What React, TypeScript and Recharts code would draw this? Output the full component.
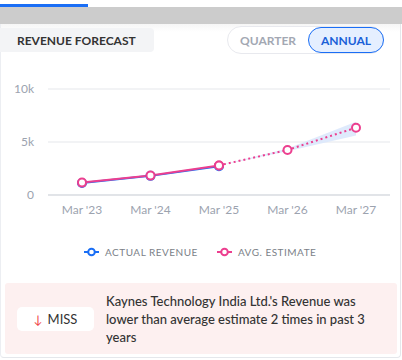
import React from "react";
import { ComposedChart, Line, Area, XAxis, YAxis, CartesianGrid } from "recharts";

const categories = ["Mar '23", "Mar '24", "Mar '25", "Mar '26", "Mar '27"];
const actualRevenue: (number | null)[] = [1126, 1805, 2722, null, null];
const estimatePast: (number | null)[] = [1170, 1830, 2790, null, null];
const estimateFuture: (number | null)[] = [null, null, 2790, 4250, 6350];
const estimateLow: (number | null)[] = [null, null, 2790, 4120, 5620];
const estimateHigh: (number | null)[] = [null, null, 2790, 4380, 6900];
const yTicks = [0, 5000, 10000];
const yTickLabels = ["0", "5k", "10k"];

const data = categories.map((c, i) => ({
  name: c,
  actual: actualRevenue[i],
  estPast: estimatePast[i],
  estFuture: estimateFuture[i],
  range:
    estimateLow[i] != null && estimateHigh[i] != null
      ? [estimateLow[i], estimateHigh[i]]
      : null,
}));

const BLUE = "#1a6ef5";
const PINK = "#ec3f8f";
const FONT = "Lato, 'Noto Sans', sans-serif";

const LegendIcon = ({ color }: { color: string }) => (
  <svg width={15} height={10} style={{ display: "block" }}>
    <line x1={0} y1={5} x2={15} y2={5} stroke={color} strokeWidth={2} />
    <circle cx={7.5} cy={5} r={3.3} fill="#fff" stroke={color} strokeWidth={2} />
  </svg>
);

export default function App() {
  return (
    <div
      style={{
        position: "absolute",
        left: 0,
        top: 0,
        width: 402,
        height: 360,
        background: "#fff",
        fontFamily: FONT,
        overflow: "hidden",
      }}
    >
      <div style={{ position: "absolute", left: 0, top: 4, width: 88, height: 3, background: BLUE }} />
      <div style={{ position: "absolute", left: 0, top: 7, width: 402, height: 17, background: "#cccccc" }} />
      <div
        style={{
          position: "absolute",
          left: 0,
          top: 24,
          width: 399,
          height: 333,
          borderLeft: "1px solid #eceef2",
          borderRight: "1px solid #e5e7eb",
          borderBottom: "1px solid #e5e7eb",
          borderRadius: "0 0 4px 4px",
          background: "linear-gradient(#f6f6f6 0px, #ffffff 8px)",
        }}
      />
      <div
        style={{
          position: "absolute",
          left: 0,
          top: 28,
          width: 154,
          height: 24,
          background: "#f3f4f6",
          borderRadius: "0 4px 4px 0",
          display: "flex",
          alignItems: "center",
          paddingLeft: 17,
          boxSizing: "border-box",
          fontWeight: 700,
          fontSize: 12,
          color: "#333",
        }}
      >
        REVENUE FORECAST
      </div>
      <div
        style={{
          position: "absolute",
          left: 227,
          top: 26,
          width: 157,
          height: 28,
          border: "1px solid #e8e9ee",
          borderRadius: 14,
          boxSizing: "border-box",
          background: "#fff",
        }}
      />
      <div
        style={{
          position: "absolute",
          left: 240,
          top: 26,
          height: 28,
          display: "flex",
          alignItems: "center",
          fontWeight: 700,
          fontSize: 12,
          color: "#a3a8b3",
        }}
      >
        QUARTER
      </div>
      <div
        style={{
          position: "absolute",
          left: 308,
          top: 27,
          width: 76,
          height: 26,
          border: `1.5px solid ${BLUE}`,
          borderRadius: 13,
          boxSizing: "border-box",
          background: "#e5efff",
          display: "flex",
          alignItems: "center",
          justifyContent: "center",
          fontWeight: 700,
          fontSize: 12,
          color: "#1a5fd8",
        }}
      >
        ANNUAL
      </div>

      <div style={{ position: "absolute", left: 0, top: 70 }}>
        <ComposedChart
          width={402}
          height={160}
          data={data}
          margin={{ top: 19, right: 12, bottom: 5, left: 0 }}
        >
          <CartesianGrid vertical={false} stroke="#e5e7eb" />
          <XAxis
            dataKey="name"
            height={30}
            padding={{ left: 34, right: 34 }}
            tickLine={false}
            axisLine={{ stroke: "#d1d5db" }}
            tick={{ fill: "#9ca3af", fontSize: 12, fontFamily: FONT }}
            tickMargin={4}
            interval={0}
          />
          <YAxis
            width={48}
            domain={[0, 10000]}
            ticks={yTicks}
            tickFormatter={(v: number) => yTickLabels[yTicks.indexOf(v)] ?? String(v)}
            axisLine={false}
            tickLine={false}
            tickMargin={8}
            tick={{ fill: "#9ca3af", fontSize: 12, fontFamily: FONT }}
          />
          <Area
            dataKey="range"
            stroke="none"
            fill="#dce8fc"
            fillOpacity={0.9}
            isAnimationActive={false}
            connectNulls={false}
            activeDot={false}
          />
          <Line
            dataKey="actual"
            stroke={BLUE}
            strokeWidth={2}
            dot={{ r: 4, fill: "#fff", stroke: BLUE, strokeWidth: 2 }}
            isAnimationActive={false}
          />
          <Line
            dataKey="estPast"
            stroke={PINK}
            strokeWidth={2}
            dot={{ r: 4, fill: "#fff", stroke: PINK, strokeWidth: 2 }}
            isAnimationActive={false}
          />
          <Line
            dataKey="estFuture"
            stroke={PINK}
            strokeWidth={2}
            strokeDasharray="2 3"
            dot={{ r: 4, fill: "#fff", stroke: PINK, strokeWidth: 2, strokeDasharray: "" }}
            isAnimationActive={false}
          />
        </ComposedChart>
      </div>

      <div
        style={{
          position: "absolute",
          left: 84,
          top: 245,
          height: 14,
          display: "flex",
          alignItems: "center",
          fontSize: 10,
          letterSpacing: 0.5,
          color: "#7b7f88",
        }}
      >
        <LegendIcon color={BLUE} />
        <span style={{ marginLeft: 6 }}>ACTUAL REVENUE</span>
        <span style={{ marginLeft: 19 }}>
          <LegendIcon color={PINK} />
        </span>
        <span style={{ marginLeft: 6 }}>AVG. ESTIMATE</span>
      </div>

      <div
        style={{
          position: "absolute",
          left: 5,
          top: 283,
          width: 392,
          height: 71,
          background: "#fdf0f0",
          borderRadius: 3,
        }}
      />
      <div
        style={{
          position: "absolute",
          left: 17,
          top: 307,
          width: 77,
          height: 24,
          background: "#fff",
          borderRadius: 5,
          display: "flex",
          alignItems: "center",
          justifyContent: "center",
          fontSize: 13,
          color: "#333",
        }}
      >
        <span style={{ color: "#ef4444", marginRight: 5, fontSize: 12 }}>↓</span>
        MISS
      </div>
      <div
        style={{
          position: "absolute",
          left: 106,
          top: 292,
          width: 264,
          fontSize: 13,
          lineHeight: "18px",
          fontWeight: 500,
          color: "#333",
        }}
      >
        Kaynes Technology India Ltd.'s Revenue was lower than average estimate 2 times in past 3 years
      </div>
    </div>
  );
}
